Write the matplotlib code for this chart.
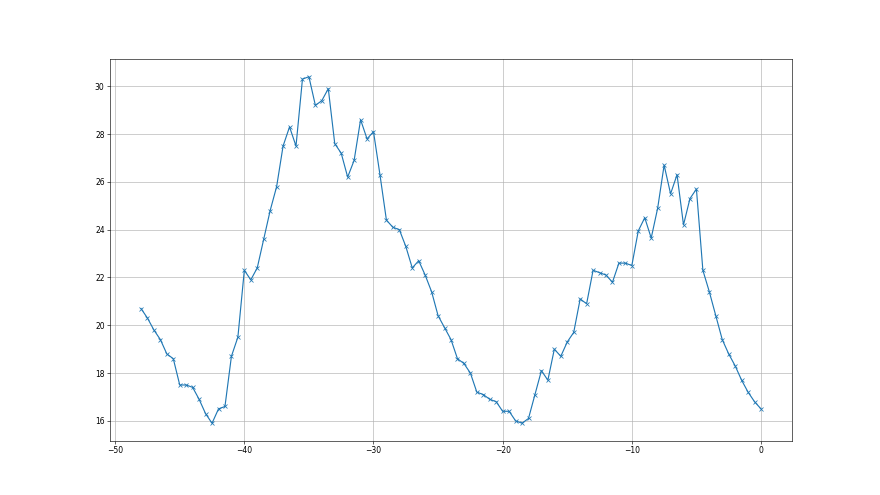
import numpy as np
import matplotlib
matplotlib.use("Agg")
import matplotlib.pyplot as plt

# x positions: -48 .. 0 every half step
x_start = -48.0
x_step = 0.5

values = [
    20.7, 20.3, 19.8, 19.4, 18.8, 18.6, 17.5, 17.5, 17.4, 16.9,
    16.3, 15.9, 16.5, 16.6, 18.7, 19.5, 22.3, 21.9, 22.4, 23.6,
    24.8, 25.8, 27.5, 28.3, 27.5, 30.3, 30.4, 29.2, 29.4, 29.9,
    27.6, 27.2, 26.2, 26.9, 28.6, 27.8, 28.1, 26.3, 24.4, 24.1,
    24.0, 23.3, 22.4, 22.7, 22.1, 21.4, 20.4, 19.9, 19.4, 18.6,
    18.4, 18.0, 17.2, 17.1, 16.9, 16.8, 16.4, 16.4, 16.0, 15.9,
    16.1, 17.1, 18.1, 17.7, 19.0, 18.7, 19.3, 19.7, 21.1, 20.9,
    22.3, 22.2, 22.1, 21.8, 22.6, 22.6, 22.5, 23.95, 24.5, 23.65,
    24.9, 26.7, 25.5, 26.3, 24.2, 25.3, 25.7, 22.3, 21.4, 20.4,
    19.4, 18.8, 18.3, 17.7, 17.2, 16.8, 16.5,
]

xs = x_start + x_step * np.arange(len(values))

fig, ax = plt.subplots(figsize=(16, 9), dpi=55)
ax.plot(xs, values, marker='x', color='tab:blue')
ax.grid(True)

fig.savefig("out.png", dpi=55)
